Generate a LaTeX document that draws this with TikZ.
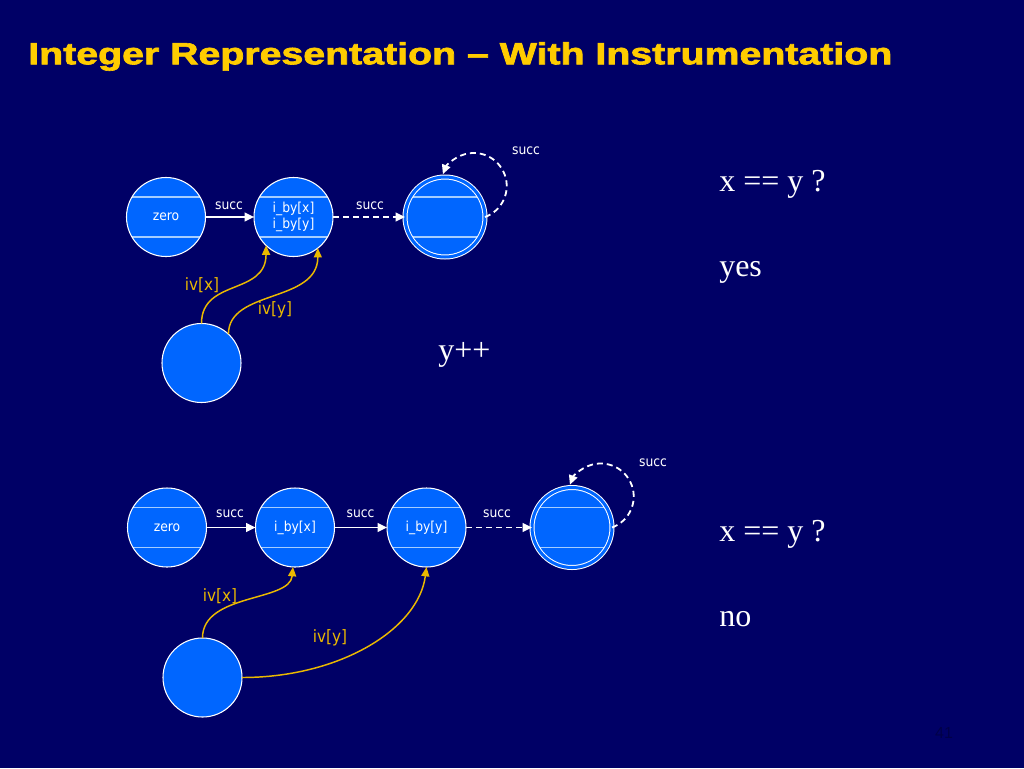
\documentclass[tikz,border=0pt]{standalone}
\usepackage{graphicx}
\usepackage{fontspec}
\setmainfont{Liberation Serif}
\newfontfamily\lblfont[FakeStretch=0.9]{DejaVu Sans}
\newfontfamily\titlefont{Liberation Sans}
\newfontfamily\titleblack[FakeBold=2]{Liberation Sans}
\usetikzlibrary{arrows.meta}
\definecolor{bgnavy}{RGB}{0,0,102}
\definecolor{nodeblue}{RGB}{0,102,255}
\definecolor{chordblue}{RGB}{165,205,255}
\definecolor{gold}{RGB}{255,204,0}
\definecolor{curvegold}{RGB}{235,185,0}
\definecolor{pagenum}{RGB}{0,0,72}
\begin{document}
\begin{tikzpicture}[x=0.75pt,y=-0.75pt,
  plain/.style={circle, draw=white, line width=0.8pt, fill=nodeblue,
    minimum size=59.25pt, inner sep=0pt, outer sep=0pt, text=white,
    font=\lblfont\fontsize{10.3pt}{12.5pt}\selectfont, align=center},
  st/.style={plain,
    path picture={
      \draw[chordblue, line width=0.9pt] ([yshift=15pt]path picture bounding box.west) -- ([yshift=15pt]path picture bounding box.east);
      \draw[chordblue, line width=0.9pt] ([yshift=-15pt]path picture bounding box.west) -- ([yshift=-15pt]path picture bounding box.east);}},
  endst/.style={st, double=nodeblue, double distance=2.25pt, line width=0.75pt, minimum size=60pt},
  sarr/.style={draw=white, line width=1.35pt, -{Triangle[length=7pt,width=6.5pt]}},
  darr/.style={sarr, dash pattern=on 4.5pt off 3pt},
  yarr/.style={draw=curvegold, line width=1.1pt, -{Triangle[length=7pt,width=6pt]}},
  slbl/.style={text=white, font=\lblfont\fontsize{10.3pt}{12.5pt}\selectfont, inner sep=0pt},
  ylbl/.style={text=curvegold, font=\lblfont\fontsize{12.75pt}{15pt}\selectfont, inner sep=0pt},
  big/.style={text=white, font=\fontsize{24pt}{28pt}\selectfont, anchor=base west, inner sep=0pt}]

\fill[bgnavy] (0,0) rectangle (1024,768);
\useasboundingbox (0,0) rectangle (1024,768);

\node[anchor=base west, inner sep=0pt, text=gold,
  font=\titleblack\bfseries\fontsize{23pt}{27pt}\selectfont] (title) at (28,64.3)
  {\resizebox{648pt}{\height}{Integer Representation – With Instrumentation}};

% ---------- top diagram ----------
\node[st] (a0) at (166,217) {zero};
\node[st] (a1) at (293.5,217) {i\_by[x]\\i\_by[y]};
\node[endst] (a2) at (445,217) {};
\node[plain] (a3) at (201.5,363) {};

\draw[sarr] (a0) -- (a1);
\node[slbl] (la01) at (229,206) {succ};
\draw[darr] (a1) -- (a2);
\node[slbl] (la12) at (370,206) {succ};
\draw[darr] (a2.east) arc[start angle=70, end angle=-159, radius=33];
\node[slbl] (la22) at (526,151) {succ};

\draw[yarr] (a3.north) .. controls +(0,-45) and +(0,50) .. (a1.-134);
\node[ylbl] (lx1) at (202,285) {iv[x]};
\draw[yarr] (a3.47) .. controls +(0,-45) and +(0,55) .. (a1.-52);
\node[ylbl] (ly1) at (275,310) {iv[y]};

\node[big] (q1) at (719,191.5) {x == y ?};
\node[big] (ans1) at (719,276.5) {yes};
\node[big] (ypp) at (438,360) {y++};

% ---------- bottom diagram ----------
\node[st] (b0) at (167,527.5) {zero};
\node[st] (b1) at (295,527.5) {i\_by[x]};
\node[st] (b2) at (426.5,527.5) {i\_by[y]};
\node[endst] (b3) at (572,527.5) {};
\node[plain] (b4) at (202.5,677.5) {};

\draw[sarr] (b0) -- (b1);
\node[slbl] (lb01) at (230,514) {succ};
\draw[sarr] (b1) -- (b2);
\node[slbl] (lb12) at (360.5,514) {succ};
\draw[darr] (b2) -- (b3);
\node[slbl] (lb23) at (497,514) {succ};
\draw[darr] (b3.east) arc[start angle=70, end angle=-159, radius=33];
\node[slbl] (lb33) at (653,463) {succ};

\draw[yarr] (b4.north) .. controls +(0,-45) and +(-3,35) .. (b1.-93);
\node[ylbl] (lx2) at (220,596) {iv[x]};
\draw[yarr] (b4.east) .. controls +(98,0) and +(-8,62) .. (b2.south);
\node[ylbl] (ly2) at (330,638) {iv[y]};

\node[big] (q2) at (719,541.5) {x == y ?};
\node[big] (ans2) at (719,626.5) {no};

\node[text=pagenum, inner sep=0pt, font=\titlefont\fontsize{12pt}{14pt}\selectfont] (pg) at (944,733) {41};
\end{tikzpicture}
\end{document}
